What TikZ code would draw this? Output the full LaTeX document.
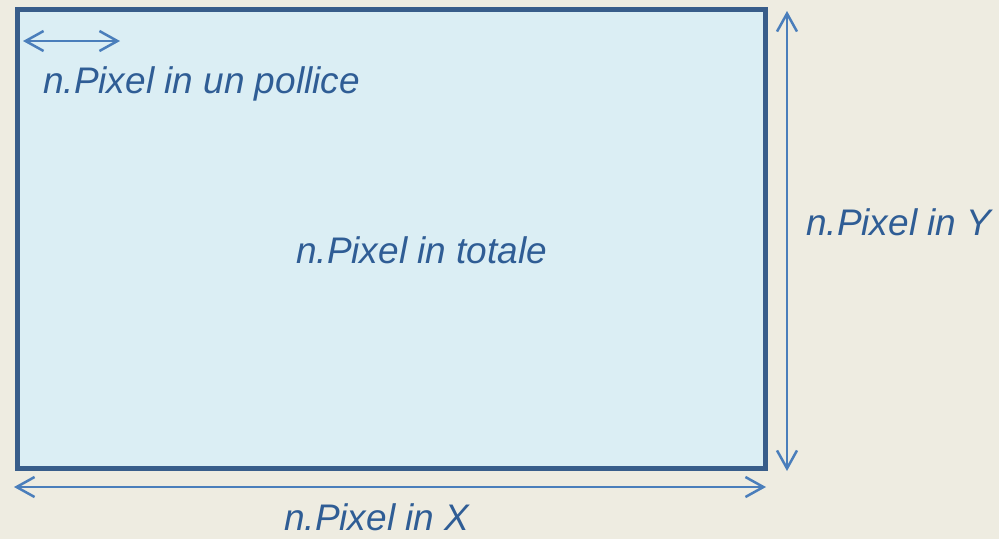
\documentclass[tikz,border=0pt]{standalone}
\usepackage{fontspec}
\setmainfont{Liberation Sans}
\usetikzlibrary{arrows.meta}
\definecolor{bg}{HTML}{EEECE1}
\definecolor{boxfill}{HTML}{DBEEF4}
\definecolor{boxline}{HTML}{385D8A}
\definecolor{arr}{HTML}{4A7EBB}
\definecolor{txt}{HTML}{2F5D95}
\tikzset{
  lbl/.style={inner sep=0pt, anchor=base west, text=txt, font=\fontsize{37}{42}\selectfont\itshape},
  dim/.style={draw=arr, line width=2.5pt, {Straight Barb[length=18pt,width=20pt,line width=2.5pt]}-{Straight Barb[length=18pt,width=20pt,line width=2.5pt]}}
}
\begin{document}
\begin{tikzpicture}[x=1pt,y=-1pt]
\useasboundingbox[fill=bg] (0,0) rectangle (999,539);
\draw[boxline, fill=boxfill, line width=5.5pt] (17.5,9.5) rectangle (765.5,468.5);
\coordinate (tl1) at (23,41); \coordinate (tl2) at (120,41);
\coordinate (r1) at (787,11); \coordinate (r2) at (787,471);
\coordinate (b1) at (14,487); \coordinate (b2) at (766,487);
\draw[dim] (tl1) -- (tl2);
\draw[dim] (r1) -- (r2);
\draw[dim] (b1) -- (b2);
\node[lbl] (p) at (43,93) {n.Pixel in un pollice};
\node[lbl] (t) at (296,263) {n.Pixel in totale};
\node[lbl] (y) at (806,235) {n.Pixel in Y};
\node[lbl] (x) at (284,530) {n.Pixel in X};
\end{tikzpicture}
\end{document}
